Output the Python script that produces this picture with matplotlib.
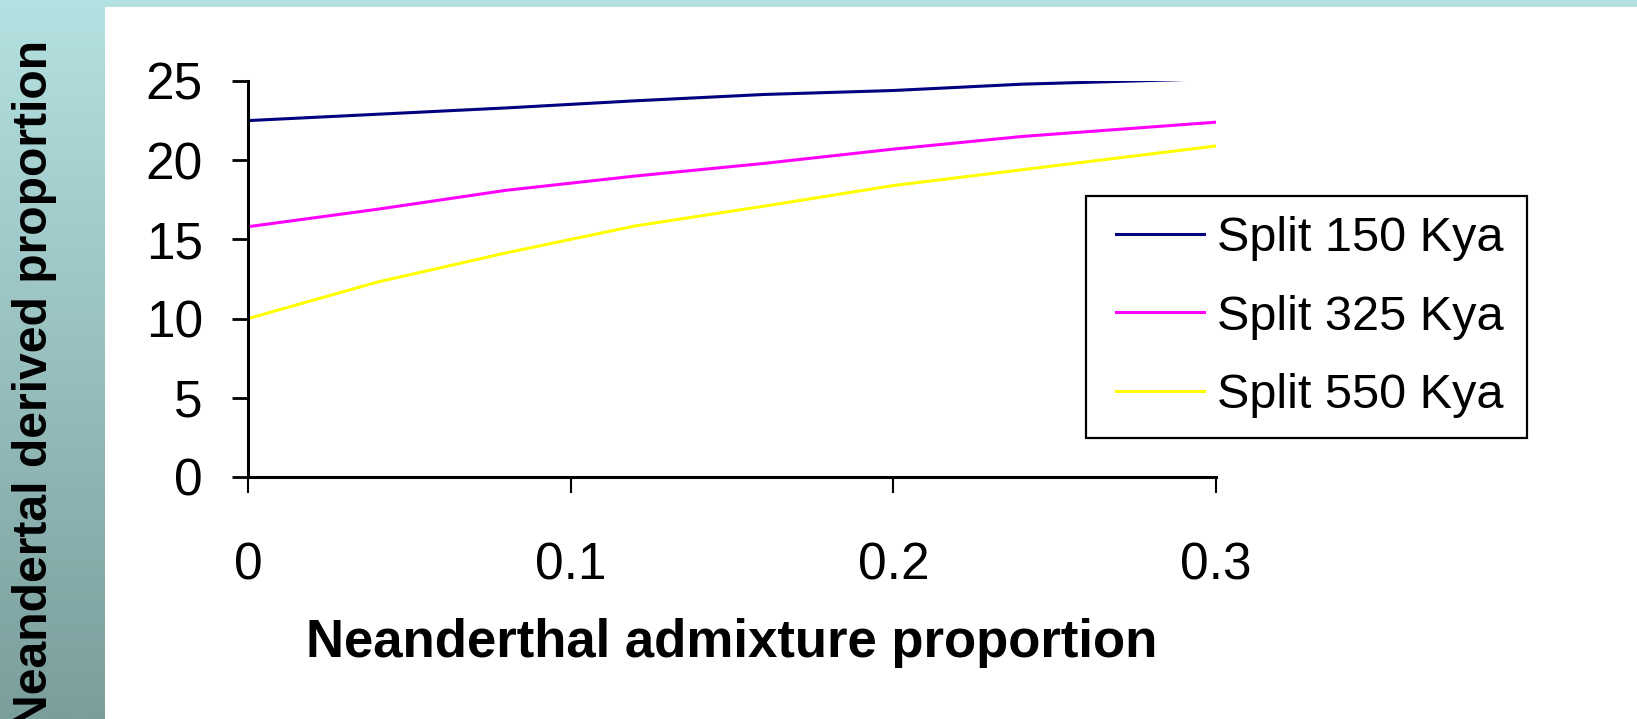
import numpy as np
import matplotlib
matplotlib.use("Agg")
import matplotlib.pyplot as plt
from matplotlib.patches import Rectangle

# admixture proportion vs Neandertal derived proportion, one series per split time
admix = [0, 0.04, 0.08, 0.12, 0.16, 0.20, 0.24, 0.30]
split_150 = [22.5, 22.9, 23.3, 23.75, 24.15, 24.4, 24.8, 25.15]
split_325 = [15.8, 16.9, 18.1, 19.0, 19.8, 20.7, 21.5, 22.4]
split_550 = [10.0, 12.3, 14.15, 15.85, 17.1, 18.4, 19.4, 20.9]
series_names = ["Split 150 Kya", "Split 325 Kya", "Split 550 Kya"]
series_colors = ["#000080", "#FF00FF", "#FFFF00"]
x_ticks = [0, 0.1, 0.2, 0.3]
x_labels = ["0", "0.1", "0.2", "0.3"]
y_ticks = [0, 5, 10, 15, 20, 25]

W, H = 1637, 719
plt.rcParams['font.family'] = ['Liberation Sans', 'DejaVu Sans']

fig = plt.figure(figsize=(W / 100, H / 100), dpi=100)
fig.patch.set_facecolor("white")

# shaded side bar and top band
bar = fig.add_axes([0, 0, 105 / W, 1])
grad = np.linspace(0, 1, 256)[:, None]
top_c = np.array([180, 225, 225]) / 255
bot_c = np.array([122, 158, 156]) / 255
img = top_c[None, None, :] * (1 - grad[:, :, None]) + bot_c[None, None, :] * grad[:, :, None]
bar.imshow(img, aspect="auto", extent=[0, 1, 0, 1])
bar.set_axis_off()
fig.patches.append(Rectangle((0, 1 - 7 / H), 1, 7 / H, transform=fig.transFigure,
                             facecolor="#b3e0e0", edgecolor="none", zorder=0))

ax = fig.add_axes([248 / W, (H - 477) / H, 968 / W, 396 / H])
ax.patch.set_alpha(0)
for ys, name, col in zip([split_150, split_325, split_550], series_names, series_colors):
    ax.plot(admix, ys, color=col, lw=2.2, label=name)

ax.set_xlim(0, 0.3)
ax.set_ylim(0, 25)
ax.set_xticks(x_ticks)
ax.set_xticklabels(x_labels)
ax.set_yticks(y_ticks)
for s in ["top", "right"]:
    ax.spines[s].set_visible(False)
for s in ["left", "bottom"]:
    ax.spines[s].set_linewidth(2.2)
ax.tick_params(axis="y", direction="out", length=11.5, width=2.0, pad=21, labelsize=37)
ax.tick_params(axis="x", direction="out", length=11.5, width=1.5, pad=35, labelsize=37)

# legend entries without frame; the box is drawn separately
leg = ax.legend(loc="center left", bbox_to_anchor=(1116 / W, 1 - 317 / H),
                bbox_transform=fig.transFigure, fontsize=35, frameon=False,
                handlelength=1.8, handletextpad=0.28, labelspacing=0.69,
                borderpad=0, borderaxespad=0)
for ln in leg.get_lines():
    ln.set_linewidth(2.2)
fig.patches.append(Rectangle((1086 / W, 1 - 438 / H), 441 / W, 242 / H,
                             transform=fig.transFigure, facecolor="none",
                             edgecolor="black", linewidth=1.6, zorder=5))

fig.text(732 / W, 62 / H, "Neanderthal admixture proportion", ha="center", va="baseline",
         fontsize=38, fontweight="bold")
fig.text(12 / W, 1 - 40 / H, "Neandertal derived proportion", rotation=90,
         ha="left", va="top", fontsize=34.6, fontweight="bold")

fig.savefig("out.png", dpi=100)
